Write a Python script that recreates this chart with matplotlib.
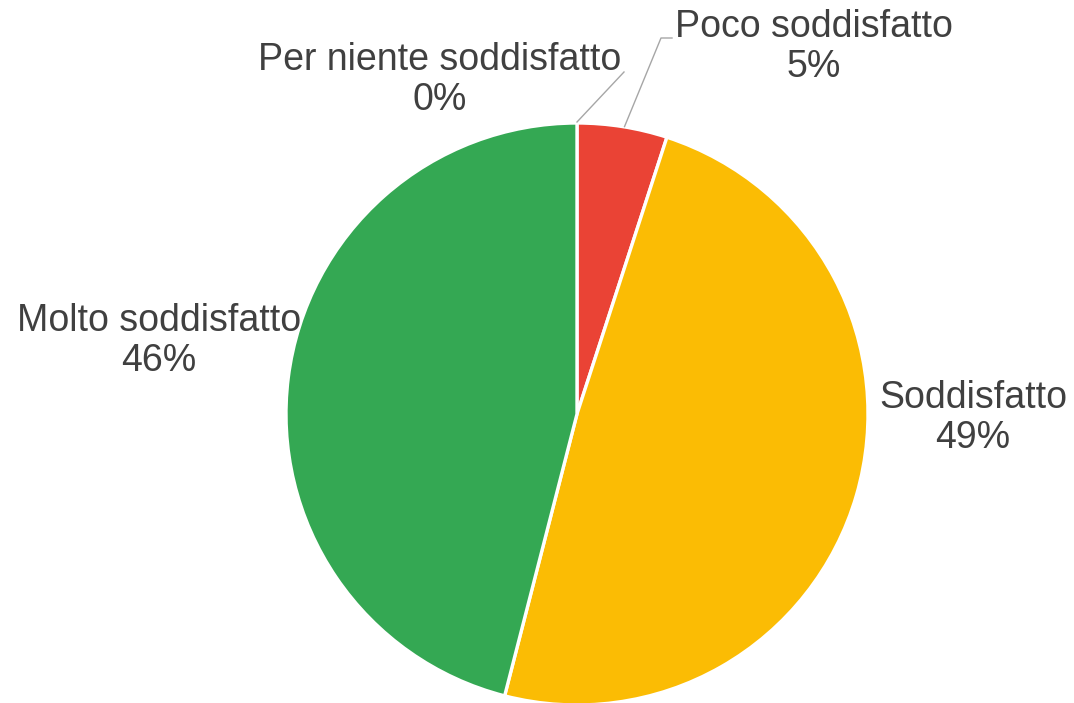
import numpy as np
import matplotlib.pyplot as plt

plt.rcParams['font.family'] = ['Liberation Sans', 'DejaVu Sans']

# satisfaction survey shares (%)
categories = ['Per niente soddisfatto', 'Poco soddisfatto', 'Soddisfatto', 'Molto soddisfatto']
values = [0, 5, 49, 46]
colors = ['#4285F4', '#EA4335', '#FBBC04', '#34A853']

W, H = 1074, 703
fig = plt.figure(figsize=(W / 100, H / 100), dpi=100)
ax = fig.add_axes([0, 0, 1, 1])

cx, cy, r = 577, H - 414, 291
wedges, _ = ax.pie(values, colors=colors, startangle=90, counterclock=False,
                   center=(cx, cy), radius=r, frame=True,
                   wedgeprops=dict(edgecolor='white', linewidth=2.4))
ax.set_xlim(0, W)
ax.set_ylim(0, H)
ax.set_aspect('equal')
ax.axis('off')

txt_color = '#404040'
fs = 27
# label block centres (x, y from top)
label_pos = [(440, 80), (814, 47), (973, 418), (159, 341)]
for name, v, (lx, ly) in zip(categories, values, label_pos):
    ax.text(lx, H - ly, '%s\n%d%%' % (name, v), ha='center', va='center',
            fontsize=fs, color=txt_color, linespacing=1.13, zorder=5)

# leader lines for the two small slices
def edge_point(w):
    ang = np.deg2rad((w.theta1 + w.theta2) / 2)
    return cx + r * np.cos(ang), cy + r * np.sin(ang)

x0, y0 = edge_point(wedges[0])
ax.plot([x0, 624], [y0 + 1, H - 72], color='#A6A6A6', lw=1, zorder=4)
x1, y1 = edge_point(wedges[1])
ax.plot([x1 + 2, 661, 672], [y1, H - 38, H - 38], color='#A6A6A6', lw=1, zorder=4)

fig.savefig('out.png', dpi=100)
